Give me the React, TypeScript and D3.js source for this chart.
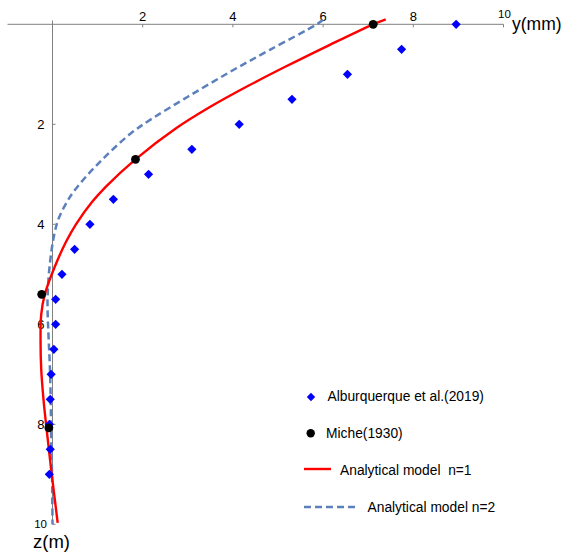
import React from "react";
import * as d3 from "d3";

const W = 568;
const H = 556;

// Alburquerque et al. (2019) data: y (mm), z (m)
const albY = [8.95, 7.74, 6.54, 5.31, 4.14, 3.09, 2.13, 1.35, 0.83, 0.49, 0.21, 0.07, 0.07, 0.03, -0.03, -0.05, -0.07, -0.05, -0.07];
const albZ = [0, 0.5, 1.0, 1.5, 2.0, 2.5, 3.0, 3.5, 4.0, 4.5, 5.0, 5.5, 6.0, 6.5, 7.0, 7.5, 8.0, 8.5, 9.0];

// Miche (1930)
const micheY = [7.11, 1.84, -0.24, -0.08];
const micheZ = [0, 2.7, 5.4, 8.07];

// Analytical model n=1
const n1Y = [7.39, 7.11, 6.15, 5.16, 4.3, 3.48, 2.74, 1.84, 1.18, 0.88, 0.52, 0.3, 0.05, -0.17, -0.25, -0.265, -0.25, -0.2, -0.13, -0.03, 0.115];
const n1Z = [-0.1, 0, 0.41, 0.85, 1.25, 1.66, 2.08, 2.7, 3.25, 3.55, 4.0, 4.35, 4.85, 5.4, 5.8, 6.3, 6.9, 7.5, 8.1, 8.9, 9.97];

// Analytical model n=2
const n2Y = [6.0, 5.86, 4.82, 3.94, 3.0, 2.22, 1.74, 1.02, 0.5, 0.29, 0.13, 0.04, -0.06, -0.11, -0.09, -0.06, -0.04, -0.03, -0.01, 0.0];
const n2Z = [-0.09, 0, 0.51, 0.95, 1.45, 1.88, 2.18, 2.78, 3.31, 3.6, 3.9, 4.2, 4.8, 5.5, 6.2, 6.8, 7.5, 8.2, 9.0, 10.0];

const xTicks = [2, 4, 6, 8, 10];
const zTicks = [2, 4, 6, 8, 10];

const legendLabels = ["Alburquerque et al.(2019)", "Miche(1930)", "Analytical model  n=1", "Analytical model n=2"];

const FONT = "'Liberation Sans', Arial, sans-serif";

export default function App() {
  const x = d3.scaleLinear().domain([0, 10]).range([52.5, 503.5]);
  const z = d3.scaleLinear().domain([0, 10]).range([24.3, 524.3]);

  const line = d3
    .line<[number, number]>()
    .x((d) => x(d[0]))
    .y((d) => z(d[1]))
    .curve(d3.curveCatmullRom.alpha(0.5));

  const n1Pts = n1Y.map((v, i) => [v, n1Z[i]] as [number, number]);
  const n2Pts = n2Y.map((v, i) => [v, n2Z[i]] as [number, number]);

  const diamond = (cx: number, cy: number, r: number) =>
    `M${cx},${cy - r}L${cx + r},${cy}L${cx},${cy + r}L${cx - r},${cy}Z`;

  const axisColor = "#808080";
  const dashColor = "#5B80BC";

  return (
    <svg width={W} height={H} style={{ position: "absolute", left: 0, top: 0, background: "#fff" }}>
      {/* axes */}
      <line x1={7.5} x2={x(10)} y1={z(0)} y2={z(0)} stroke={axisColor} strokeWidth={1} />
      <line x1={x(0)} x2={x(0)} y1={20.5} y2={z(10)} stroke={axisColor} strokeWidth={1} />
      {xTicks.map((t) => (
        <g key={"xt" + t}>
          <line x1={x(t)} x2={x(t)} y1={z(0)} y2={z(0) + 3} stroke={axisColor} />
          <text
            x={t === 10 ? x(t) + 1 : x(t)}
            y={t === 10 ? 18 : 20.5}
            textAnchor="middle"
            fontFamily={FONT}
            fontSize={t === 10 ? 11.5 : 13}
            fill="#000"
          >
            {t}
          </text>
        </g>
      ))}
      {zTicks.map((t) => (
        <g key={"zt" + t}>
          <line x1={x(0)} x2={x(0) + 3} y1={z(t)} y2={z(t)} stroke={axisColor} />
          <text
            x={t === 10 ? 47 : 44.5}
            y={z(t)}
            dy="0.36em"
            textAnchor="end"
            fontFamily={FONT}
            fontSize={t === 10 ? 11.5 : 13}
            fill="#000"
          >
            {t}
          </text>
        </g>
      ))}
      <text x={512} y={29.5} fontFamily={FONT} fontSize={17.5} fill="#000">
        y(mm)
      </text>
      <text x={33} y={548} fontFamily={FONT} fontSize={18.5} fill="#000">
        z(m)
      </text>

      {/* curves */}
      <path d={line(n2Pts) || ""} fill="none" stroke={dashColor} strokeWidth={2.5} strokeDasharray="7,4" />
      <path d={line(n1Pts) || ""} fill="none" stroke="#FF0000" strokeWidth={2.4} />

      {/* Alburquerque */}
      {albY.map((v, i) => (
        <path key={"a" + i} d={diamond(x(v), z(albZ[i]), 4.6)} fill="#0000FF" />
      ))}
      {/* Miche */}
      {micheY.map((v, i) => (
        <circle key={"m" + i} cx={x(v)} cy={z(micheZ[i])} r={4.4} fill="#000" />
      ))}

      {/* legend */}
      <path d={diamond(311, 397, 4.2)} fill="#0000FF" />
      <text x={327.5} y={396} dy="0.36em" fontFamily={FONT} fontSize={13.8} fill="#000">
        {legendLabels[0]}
      </text>
      <circle cx={310.7} cy={433.3} r={4.2} fill="#000" />
      <text x={326} y={433} dy="0.36em" fontFamily={FONT} fontSize={13.8} fill="#000">
        {legendLabels[1]}
      </text>
      <line x1={304} x2={331} y1={469} y2={469} stroke="#FF0000" strokeWidth={2.4} />
      <text x={340} y={470} dy="0.36em" fontFamily={FONT} fontSize={13.8} fill="#000" style={{ whiteSpace: "pre" }}>
        {legendLabels[2]}
      </text>
      <line x1={304} x2={357} y1={507} y2={507} stroke={dashColor} strokeWidth={2.5} strokeDasharray="7,4" />
      <text x={367.5} y={507} dy="0.36em" fontFamily={FONT} fontSize={13.8} fill="#000">
        {legendLabels[3]}
      </text>
    </svg>
  );
}
